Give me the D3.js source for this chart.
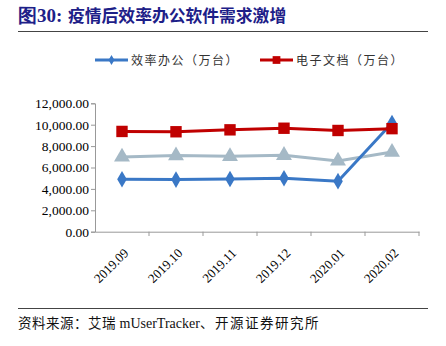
<!DOCTYPE html>
<html><head><meta charset="utf-8">
<script src="https://cdn.jsdelivr.net/npm/d3@7"></script>
<style>body{margin:0;background:#fff}svg{display:block}</style>
</head><body>
<svg id="c" width="446" height="346"></svg>
<script>
const categories = ["2019.09","2019.10","2019.11","2019.12","2020.01","2020.02"];
const officeValues = [4900, 4870, 4930, 5000, 4720, 10150];
const docValues = [9370, 9340, 9520, 9670, 9460, 9630];
const greyValues = [6980, 7110, 7040, 7140, 6610, 7440];
const yTicks = [0,2000,4000,6000,8000,10000,12000];
const titlePrefix = "图30:";
const titleText = "疫情后效率办公软件需求激增";
const legendLabels = ["效率办公（万台）","电子文档（万台）"];
const sourceParts = ["资料来源：艾瑞 ","mUserTracker","、开源证券研究所"];

const svg = d3.select("#c");
const serif = "'Liberation Serif','Times New Roman',serif";
const cjk = "'Noto Sans CJK SC',sans-serif";

// Title
const t = svg.append("text").attr("x",18).attr("y",22).attr("fill","#1d2088").attr("font-weight","bold");
t.append("tspan").attr("font-family",serif).attr("font-size",19).text(titlePrefix);
t.append("tspan").attr("font-family",cjk).attr("font-size",16.8).attr("x",68).text(titleText);
svg.append("line").attr("x1",18).attr("x2",428).attr("y1",31.5).attr("y2",31.5).attr("stroke","#444").attr("stroke-width",1);

const x = d3.scaleBand().domain(categories).range([95,419]);
const y = d3.scaleLinear().domain([0,12000]).range([231.7,103.3]);

// axes
const yAxis = svg.append("g").attr("transform","translate(95,0)").call(d3.axisLeft(y).tickValues(yTicks).tickSize(4).tickFormat(d3.format(",.2f")));
yAxis.selectAll("path,line").attr("stroke","#999");
yAxis.selectAll("text").attr("font-family",serif).attr("font-size",13.5).attr("fill","#000").attr("x",-6);
const xAxis = svg.append("g").attr("transform","translate(0,231.7)").call(d3.axisBottom(x).tickSize(0).tickSizeOuter(0));
xAxis.select("path").attr("stroke","#999");
xAxis.selectAll("text").attr("font-family",serif).attr("font-size",13).attr("fill","#000")
  .attr("text-anchor","end").attr("transform","translate(4,19) rotate(-45)").attr("dy","0.35em").attr("y",0);
// ticks at band boundaries
svg.append("g").selectAll("line").data(categories).join("line")
  .attr("x1",d=>x(d)+x.bandwidth()).attr("x2",d=>x(d)+x.bandwidth())
  .attr("y1",231.7).attr("y2",236).attr("stroke","#999");

const cx = d => x(d)+x.bandwidth()/2;
const line = d3.line().x((d,i)=>cx(categories[i])).y(d=>y(d));

function series(vals,color,sym,size){
  svg.append("path").datum(vals).attr("d",line).attr("fill","none").attr("stroke",color).attr("stroke-width",3);
  svg.append("g").selectAll("path").data(vals).join("path")
    .attr("transform",(d,i)=>`translate(${cx(categories[i])},${y(d)})`)
    .attr("d",d3.symbol().type(sym).size(size)).attr("fill",color);
}
series(greyValues,"#a5b9c6",d3.symbolTriangle,110);
series(officeValues,"#3a78c6",d3.symbolDiamond,80);
series(docValues,"#c00000",d3.symbolSquare,130);

// legend
const lg = [{c:"#3a78c6",sym:d3.symbolDiamond,s:30,x:95},{c:"#c00000",sym:d3.symbolSquare,s:60,x:260}];
lg.forEach((l,i)=>{
  svg.append("line").attr("x1",l.x).attr("x2",l.x+33).attr("y1",60).attr("y2",60).attr("stroke",l.c).attr("stroke-width",3);
  svg.append("path").attr("transform",`translate(${l.x+16.5},60)`).attr("d",d3.symbol().type(l.sym).size(l.s)).attr("fill",l.c);
  svg.append("text").attr("x",l.x+36).attr("y",64.5).attr("font-family",cjk).attr("font-size",12).attr("letter-spacing",1.5).attr("fill","#333").text(legendLabels[i]);
});

// source
svg.append("line").attr("x1",18).attr("x2",428).attr("y1",308.5).attr("y2",308.5).attr("stroke","#444").attr("stroke-width",1);
const s = svg.append("text").attr("x",18).attr("y",328).attr("font-size",13.5).attr("fill","#111");
s.append("tspan").attr("font-family",cjk).attr("letter-spacing",0.5).text(sourceParts[0]);
s.append("tspan").attr("font-family",serif).attr("font-size",14).text(sourceParts[1]);
s.append("tspan").attr("font-family",cjk).attr("letter-spacing",1.5).text(sourceParts[2]);
</script>
</body></html>
